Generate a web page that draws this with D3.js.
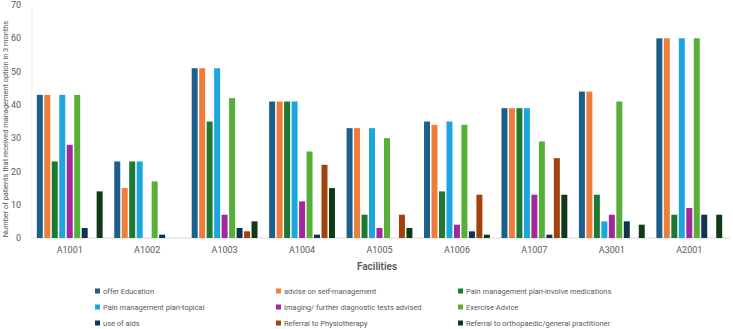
<!DOCTYPE html>
<html>
<head>
<meta charset="utf-8">
<script src="https://cdn.jsdelivr.net/npm/d3@7"></script>
<style>
  body { margin: 0; background: #fff; }
  svg text { font-family: Roboto, "Liberation Sans", Arial, sans-serif; fill: #595959; }
</style>
</head>
<body>
<svg id="chart" width="733" height="329"></svg>
<script>
// Data
const facilities = ["A1001", "A1002", "A1003", "A1004", "A1005", "A1006", "A1007", "A3001", "A2001"];
const seriesNames = [
    "offer Education",
    "advise on self-management",
    "Pain management plan-involve medications",
    "Pain management plan-topical",
    "Imaging/ further diagnostic tests advised",
    "Exercise Advice",
    "use of aids",
    "Referral to Physiotherapy",
    "Referral to orthopaedic/general practitioner"
];
const offerEducation   = [43, 23, 51, 41, 33, 35, 39, 44, 60];
const adviseSelf       = [43, 15, 51, 41, 33, 34, 39, 44, 60];
const painMedications  = [23, 23, 35, 41, 7, 14, 39, 13, 7];
const painTopical      = [43, 23, 51, 41, 33, 35, 39, 5, 60];
const imaging          = [28, 0, 7, 11, 3, 4, 13, 7, 9];
const exerciseAdvice   = [43, 17, 42, 26, 30, 34, 29, 41, 60];
const useOfAids        = [3, 1, 3, 1, 0, 2, 1, 5, 7];
const physio           = [0, 0, 2, 22, 7, 13, 24, 0, 0];
const orthoReferral    = [14, 0, 5, 15, 3, 1, 13, 4, 7];
const yTicks = [0, 10, 20, 30, 40, 50, 60, 70];

const seriesValues = [offerEducation, adviseSelf, painMedications, painTopical,
    imaging, exerciseAdvice, useOfAids, physio, orthoReferral];
const colors = ["#1d5e8a", "#ef7d3a", "#1d7a32", "#1ca6df", "#a3289f",
    "#56b038", "#0f3450", "#a3420f", "#0e3b15"];

const dimensions = {
    width: 733,
    height: 329,
    margin: { top: 5, right: 5, bottom: 91, left: 31 }
};

const svg = d3.select("#chart");

const xScale = d3.scaleBand()
    .domain(facilities)
    .range([dimensions.margin.left, dimensions.width - dimensions.margin.right])
    .paddingInner(0.15)
    .paddingOuter(0.075);

const xInner = d3.scaleBand()
    .domain(d3.range(seriesNames.length))
    .range([0, xScale.bandwidth()])
    .paddingInner(0.2);

const yScale = d3.scaleLinear()
    .domain([0, 70])
    .range([dimensions.height - dimensions.margin.bottom, dimensions.margin.top]);

// y-axis tick labels (no ticks, no line)
svg.append("g")
    .selectAll("text")
    .data(yTicks)
    .enter()
    .append("text")
    .attr("x", 21)
    .attr("y", d => yScale(d))
    .attr("dy", "0.35em")
    .attr("text-anchor", "end")
    .style("font-size", "9px")
    .text(d => d);

// faint axis lines
svg.append("line")
    .attr("x1", dimensions.margin.left).attr("x2", dimensions.width - 3)
    .attr("y1", yScale(0)).attr("y2", yScale(0))
    .attr("stroke", "#d9d9d9").attr("stroke-width", 1);
svg.append("line")
    .attr("x1", dimensions.margin.left + 1).attr("x2", dimensions.margin.left + 1)
    .attr("y1", yScale(70)).attr("y2", yScale(0))
    .attr("stroke", "#eeeeee").attr("stroke-width", 1);

// bars
const groups = svg.selectAll(".group")
    .data(facilities)
    .enter()
    .append("g")
    .attr("class", "group")
    .attr("transform", d => `translate(${xScale(d)},0)`);

groups.selectAll("rect")
    .data((f, fi) => seriesValues.map((vals, si) => ({ s: si, v: vals[fi] })))
    .enter()
    .filter(d => d.v > 0)
    .append("rect")
    .attr("x", d => xInner(d.s))
    .attr("y", d => yScale(d.v))
    .attr("width", xInner.bandwidth())
    .attr("height", d => yScale(0) - yScale(d.v))
    .attr("fill", d => colors[d.s]);

// x-axis labels
svg.append("g")
    .selectAll("text")
    .data(facilities)
    .enter()
    .append("text")
    .attr("x", d => xScale(d) + xScale.bandwidth() / 2)
    .attr("y", 253)
    .attr("text-anchor", "middle")
    .style("font-size", "9px")
    .text(d => d);

// axis titles
svg.append("text")
    .attr("x", 377)
    .attr("y", 270)
    .attr("text-anchor", "middle")
    .style("font-size", "10px")
    .style("font-weight", "600")
    .text("Facilities");

svg.append("text")
    .attr("transform", "translate(8,129) rotate(-90)")
    .attr("text-anchor", "middle")
    .style("font-size", "7.4px")
    .text("Number of patients that received management option in 3 months");

// legend: 3 columns x 3 rows
const legendX = [95, 276, 458];
const legendY = [291, 307, 323];
const legend = svg.selectAll(".legend")
    .data(seriesNames)
    .enter()
    .append("g")
    .attr("class", "legend")
    .attr("transform", (d, i) => `translate(${legendX[i % 3]}, ${legendY[Math.floor(i / 3)]})`);

legend.append("rect")
    .attr("x", 0)
    .attr("y", -2.5)
    .attr("width", 5)
    .attr("height", 5)
    .style("fill", (d, i) => colors[i]);

legend.append("text")
    .attr("x", 8)
    .attr("y", 0)
    .attr("dy", "0.35em")
    .style("font-size", "7.5px")
    .text(d => d);
</script>
</body>
</html>
